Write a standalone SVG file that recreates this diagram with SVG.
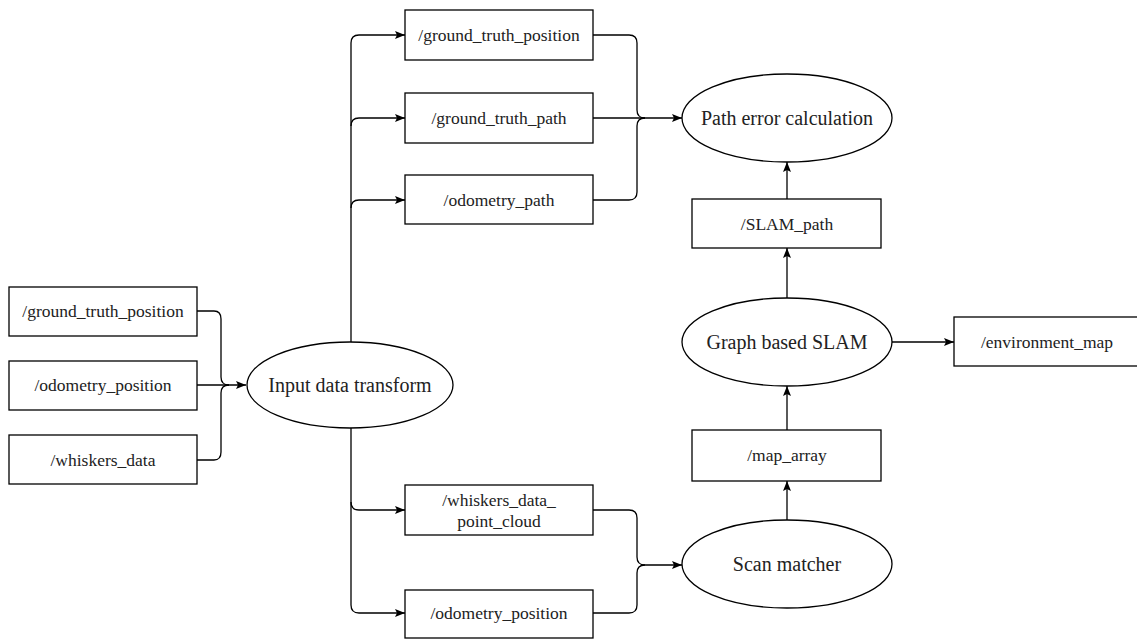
<svg xmlns="http://www.w3.org/2000/svg" width="1137" height="640" viewBox="0 0 1137 640">
<style>
.box{fill:#fff;stroke:#000;stroke-width:1.3}
.ell{fill:#fff;stroke:#000;stroke-width:1.3}
.t{font-family:"Liberation Serif","Times New Roman",serif;font-size:17.5px;fill:#222;text-anchor:middle}
.te{font-family:"Liberation Serif","Times New Roman",serif;font-size:20px;fill:#222;text-anchor:middle}
.c{fill:none;stroke:#000;stroke-width:1.3}
</style>
<defs>
<marker id="ah" viewBox="0 0 10 10" refX="10" refY="5" markerWidth="10" markerHeight="10" markerUnits="userSpaceOnUse" orient="auto">
<path d="M0,1 L10,5 L0,9 L2,5 Z" fill="#000"/>
</marker>
</defs>
<rect width="1137" height="640" fill="#fff"/>
<g id="connectors">
<path class="c" d="M197,311 H214 Q221,311 221,319 V377 Q221,385 229,385" />
<path class="c" d="M197,460 H214 Q221,460 221,452 V393 Q221,385 229,385" />
<path class="c" d="M197,385 H246" marker-end="url(#ah)"/>
<path class="c" d="M351,342 V43 Q351,35 359,35 H405" marker-end="url(#ah)"/>
<path class="c" d="M351,126 Q351,118 359,118 H405" marker-end="url(#ah)"/>
<path class="c" d="M351,208 Q351,200 359,200 H405" marker-end="url(#ah)"/>
<path class="c" d="M351,428 V605 Q351,613 359,613 H405" marker-end="url(#ah)"/>
<path class="c" d="M351,502 Q351,510 359,510 H405" marker-end="url(#ah)"/>
<path class="c" d="M593,35 H629 Q637,35 637,43 V110 Q637,118 645,118" />
<path class="c" d="M593,200 H629 Q637,200 637,192 V126 Q637,118 645,118" />
<path class="c" d="M593,118 H682" marker-end="url(#ah)"/>
<path class="c" d="M593,510 H629 Q637,510 637,518 V557 Q637,565 645,565" />
<path class="c" d="M593,613 H629 Q637,613 637,605 V573 Q637,565 645,565 H682" marker-end="url(#ah)"/>
<path class="c" d="M787,199 V162" marker-end="url(#ah)"/>
<path class="c" d="M787,298 V248" marker-end="url(#ah)"/>
<path class="c" d="M787,430 V386" marker-end="url(#ah)"/>
<path class="c" d="M787,520 V481" marker-end="url(#ah)"/>
<path class="c" d="M892,342 H954" marker-end="url(#ah)"/>
</g>
<g id="in_gtp"><rect class="box" x="9" y="287" width="188" height="49"/><text class="t" x="103" y="317">/ground_truth_position</text></g>
<g id="in_odom"><rect class="box" x="9" y="361" width="188" height="49"/><text class="t" x="103" y="391">/odometry_position</text></g>
<g id="in_whiskers"><rect class="box" x="9" y="435" width="188" height="49"/><text class="t" x="103" y="466">/whiskers_data</text></g>
<g id="input_transform"><ellipse class="ell" cx="350" cy="385" rx="103" ry="43"/><text class="te" x="350" y="392">Input data transform</text></g>
<g id="gtp"><rect class="box" x="405" y="10" width="188" height="50"/><text class="t" x="499" y="41">/ground_truth_position</text></g>
<g id="gtpath"><rect class="box" x="405" y="93" width="188" height="50"/><text class="t" x="499" y="124">/ground_truth_path</text></g>
<g id="odompath"><rect class="box" x="405" y="175" width="188" height="49"/><text class="t" x="499" y="206">/odometry_path</text></g>
<g id="whiskers_pc"><rect class="box" x="405" y="485" width="188" height="50"/><text class="t" x="499" y="506">/whiskers_data_</text><text class="t" x="499" y="527">point_cloud</text></g>
<g id="odompos"><rect class="box" x="405" y="590" width="188" height="48"/><text class="t" x="499" y="619">/odometry_position</text></g>
<g id="path_error"><ellipse class="ell" cx="787" cy="118" rx="105" ry="44"/><text class="te" x="787" y="125">Path error calculation</text></g>
<g id="slam_path"><rect class="box" x="692" y="199" width="189" height="49"/><text class="t" x="787" y="230">/SLAM_path</text></g>
<g id="graph_slam"><ellipse class="ell" cx="787" cy="342" rx="105" ry="44"/><text class="te" x="787" y="349">Graph based SLAM</text></g>
<g id="env_map"><rect class="box" x="954" y="317" width="188" height="49"/><text class="t" x="1047" y="348">/environment_map</text></g>
<g id="map_array"><rect class="box" x="692" y="430" width="189" height="51"/><text class="t" x="787" y="461">/map_array</text></g>
<g id="scan_matcher"><ellipse class="ell" cx="787" cy="564" rx="105" ry="44"/><text class="te" x="787" y="571">Scan matcher</text></g>
</svg>
